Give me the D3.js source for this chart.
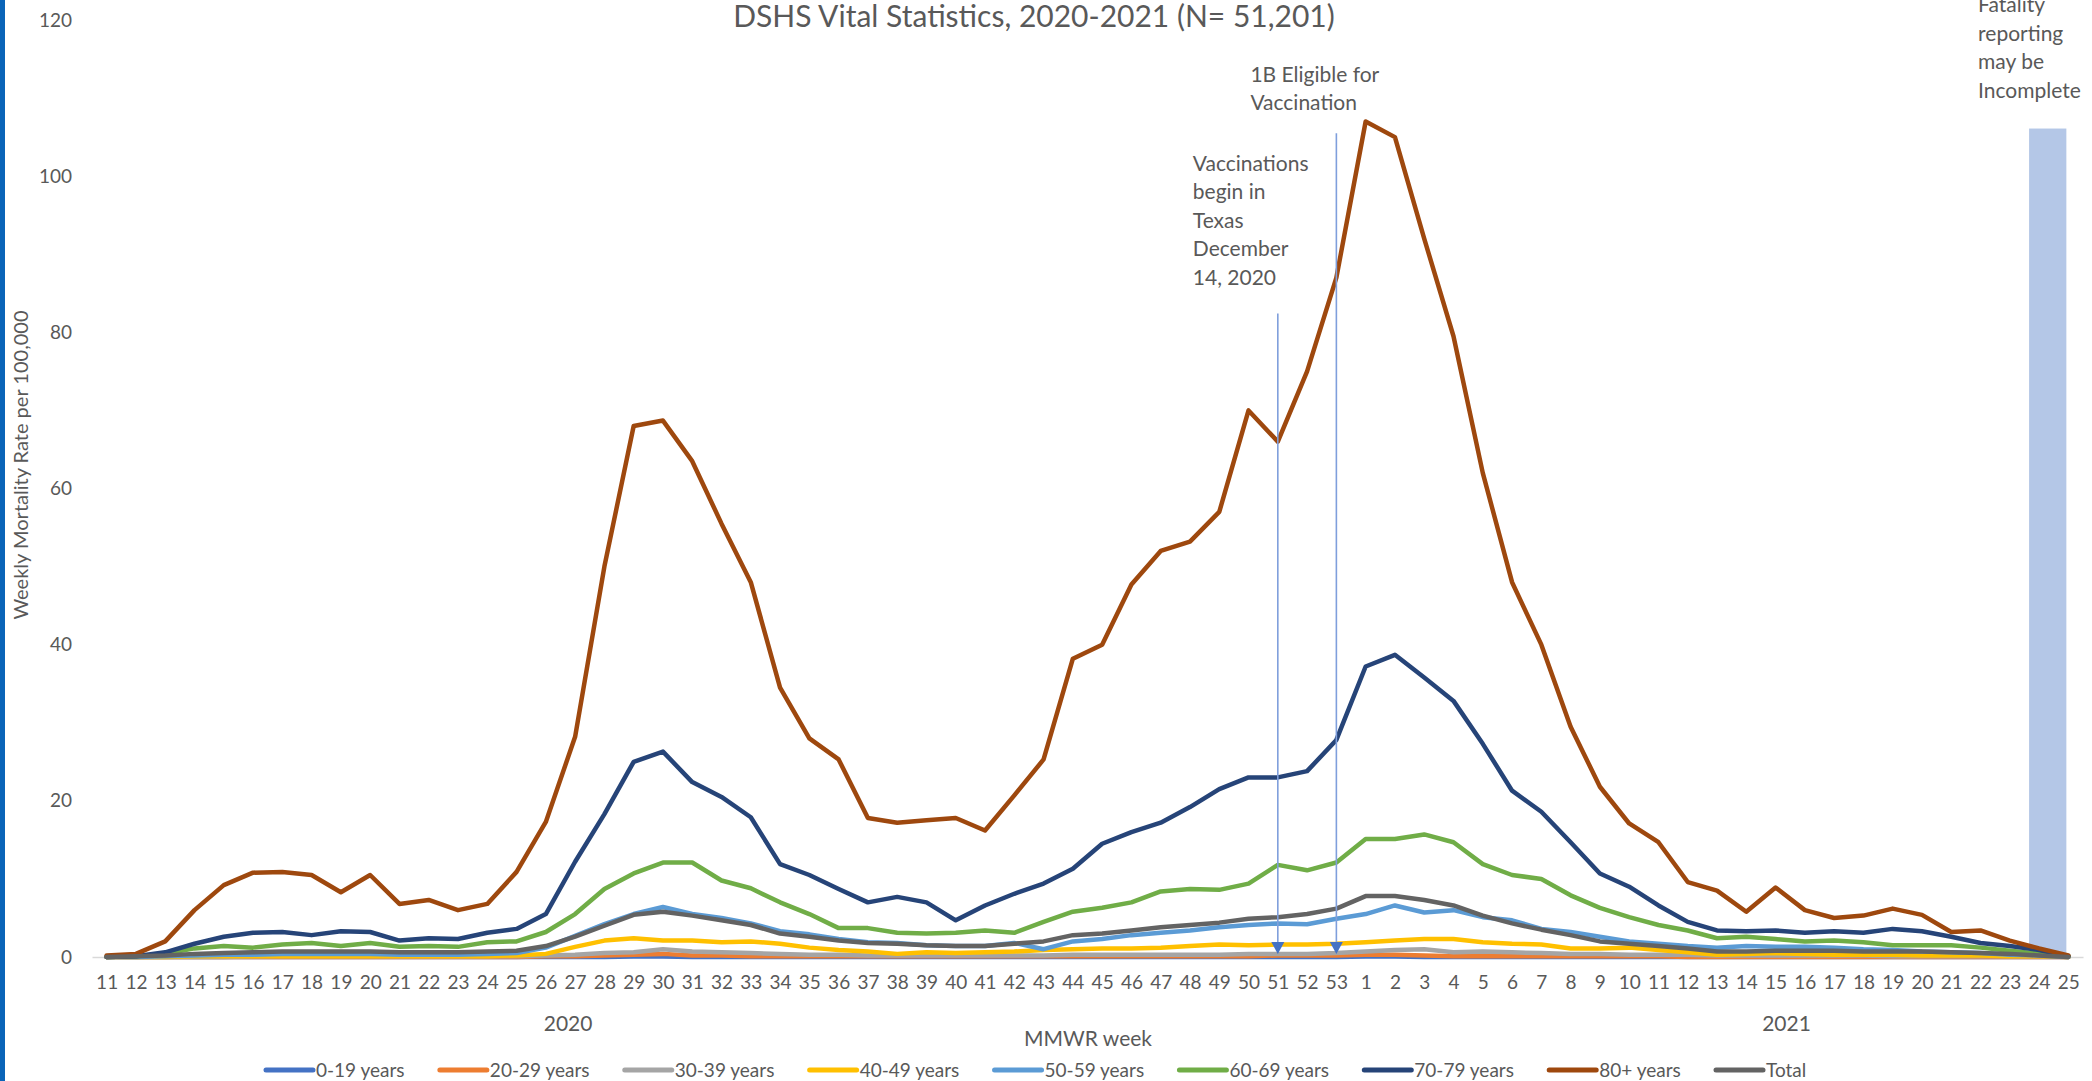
<!DOCTYPE html>
<html>
<head>
<meta charset="utf-8">
<script src="https://cdn.jsdelivr.net/npm/d3@7"></script>
<style>
  html, body { margin: 0; padding: 0; background: #fff; overflow: hidden; }
  svg { display: block; font-family: Lato, "Open Sans", sans-serif; }
</style>
</head>
<body>
<svg id="chart" width="2092" height="1081"></svg>
<script>
// MMWR weeks shown on the category axis
const weeks2020 = [11, 12, 13, 14, 15, 16, 17, 18, 19, 20, 21, 22, 23, 24, 25, 26, 27, 28, 29, 30,
  31, 32, 33, 34, 35, 36, 37, 38, 39, 40, 41, 42, 43, 44, 45, 46, 47, 48, 49, 50, 51, 52, 53];
const weeks2021 = [1, 2, 3, 4, 5, 6, 7, 8, 9, 10, 11, 12, 13, 14, 15, 16, 17, 18, 19, 20, 21, 22, 23, 24, 25];

const yTicks = [0, 20, 40, 60, 80, 100, 120];

// weekly mortality rate per 100,000
const age0_19 = [0, 0, 0, 0, 0, 0, 0, 0, 0, 0, 0, 0, 0, 0, 0, 0, 0, 0, 0.05, 0.05,
  0, 0, 0, 0, 0, 0, 0, 0, 0, 0, 0, 0, 0, 0, 0, 0, 0, 0, 0, 0, 0, 0, 0,
  0.05, 0.05, 0, 0, 0, 0, 0, 0, 0, 0, 0, 0, 0, 0, 0, 0, 0, 0, 0, 0, 0, 0, 0, 0, 0];
const age20_29 = [0, 0, 0, 0, 0, 0, 0, 0, 0, 0, 0, 0, 0, 0, 0, 0.1, 0.1, 0.2, 0.3, 0.4,
  0.2, 0.2, 0.1, 0.1, 0.1, 0.1, 0.1, 0.1, 0.1, 0.1, 0.1, 0.1, 0.1, 0.1, 0.1, 0.1, 0.1, 0.1, 0.1, 0.1,
  0.2, 0.2, 0.2,
  0.3, 0.3, 0.2, 0.1, 0.1, 0.1, 0.1, 0.1, 0.1, 0.1, 0.1, 0, 0, 0, 0, 0, 0, 0, 0, 0, 0, 0, 0, 0, 0];
const age30_39 = [0, 0, 0, 0, 0, 0.1, 0.1, 0.1, 0.1, 0.1, 0.1, 0.1, 0.1, 0.1, 0.1, 0.2, 0.3, 0.5, 0.6, 1.0,
  0.7, 0.6, 0.5, 0.4, 0.3, 0.3, 0.2, 0.2, 0.2, 0.2, 0.2, 0.2, 0.2, 0.3, 0.3, 0.3, 0.3, 0.3, 0.3, 0.4,
  0.4, 0.4, 0.5,
  0.7, 0.9, 1.0, 0.6, 0.7, 0.6, 0.5, 0.4, 0.4, 0.3, 0.3, 0.3, 0.2, 0.2, 0.2, 0.2, 0.2, 0.2, 0.1, 0.1,
  0.1, 0.1, 0.1, 0.1, 0];
const age40_49 = [0, 0, 0, 0.1, 0.1, 0.1, 0.1, 0.1, 0.1, 0.1, 0.1, 0.1, 0.1, 0.1, 0.2, 0.4, 1.3, 2.1, 2.4, 2.1,
  2.1, 1.9, 2.0, 1.7, 1.2, 0.9, 0.7, 0.4, 0.6, 0.5, 0.6, 0.7, 0.9, 1.0, 1.1, 1.1, 1.2, 1.4, 1.6, 1.5,
  1.6, 1.6, 1.7,
  1.9, 2.1, 2.3, 2.3, 1.9, 1.7, 1.6, 1.1, 1.1, 1.2, 0.9, 0.6, 0.3, 0.4, 0.5, 0.4, 0.3, 0.3, 0.3, 0.2,
  0.2, 0.2, 0.1, 0.1, 0];
const age50_59 = [0, 0, 0.1, 0.2, 0.3, 0.3, 0.4, 0.4, 0.4, 0.4, 0.3, 0.3, 0.3, 0.4, 0.5, 1.2, 2.7, 4.2, 5.5, 6.4,
  5.5, 5.0, 4.3, 3.3, 2.9, 2.3, 1.9, 1.8, 1.5, 1.4, 1.4, 1.8, 1.0, 2.0, 2.3, 2.8, 3.1, 3.4, 3.8, 4.1,
  4.3, 4.2, 4.9,
  5.5, 6.6, 5.7, 6.0, 5.1, 4.7, 3.6, 3.2, 2.6, 2.0, 1.7, 1.4, 1.2, 1.4, 1.3, 1.3, 1.2, 1.0, 0.9, 0.7,
  0.6, 0.5, 0.3, 0.2, 0];
const age60_69 = [0, 0.1, 0.4, 1.1, 1.4, 1.2, 1.6, 1.8, 1.4, 1.8, 1.3, 1.4, 1.3, 1.9, 2.0, 3.2, 5.5, 8.7, 10.7, 12.1,
  12.1, 9.8, 8.8, 7.0, 5.5, 3.7, 3.7, 3.1, 3.0, 3.1, 3.4, 3.1, 4.5, 5.8, 6.3, 7.0, 8.4, 8.7, 8.6, 9.4,
  11.8, 11.1, 12.1,
  15.1, 15.1, 15.7, 14.7, 11.9, 10.5, 10.0, 7.9, 6.3, 5.1, 4.1, 3.4, 2.4, 2.6, 2.3, 2.0, 2.1, 1.9, 1.5, 1.5,
  1.5, 1.2, 0.8, 0.4, 0.1];
const age70_79 = [0, 0.1, 0.6, 1.7, 2.6, 3.1, 3.2, 2.8, 3.3, 3.2, 2.1, 2.4, 2.3, 3.1, 3.6, 5.5, 12.2, 18.3, 25.0, 26.3,
  22.4, 20.5, 17.9, 11.9, 10.5, 8.7, 7.0, 7.7, 7.0, 4.7, 6.6, 8.1, 9.4, 11.3, 14.5, 16.0, 17.2, 19.2, 21.5, 23.0,
  23.0, 23.8, 27.8,
  37.2, 38.7, 35.8, 32.8, 27.3, 21.3, 18.6, 14.7, 10.7, 9.0, 6.6, 4.5, 3.4, 3.3, 3.4, 3.1, 3.3, 3.1, 3.6, 3.3,
  2.6, 1.8, 1.4, 0.9, 0.1];
const age80plus = [0.2, 0.4, 2.0, 6.0, 9.2, 10.8, 10.9, 10.5, 8.3, 10.5, 6.8, 7.3, 6.0, 6.8, 10.9, 17.3, 28.2, 50.0, 68.0, 68.7,
  63.5, 55.5, 48.0, 34.5, 28.0, 25.3, 17.8, 17.2, 17.5, 17.8, 16.2, 20.7, 25.3, 38.2, 40.0, 47.7, 52.0, 53.2, 57.0, 70.0,
  66.0, 75.0, 87.0,
  107.0, 105.0, 92.0, 79.5, 62.0, 48.0, 40.0, 29.5, 21.8, 17.1, 14.7, 9.6, 8.5, 5.8, 8.9, 6.0, 5.0, 5.3, 6.2, 5.4,
  3.2, 3.4, 2.1, 1.1, 0.2];
const total = [0, 0.1, 0.2, 0.4, 0.5, 0.6, 0.7, 0.7, 0.7, 0.7, 0.6, 0.6, 0.6, 0.7, 0.8, 1.4, 2.6, 4.0, 5.4, 5.8,
  5.3, 4.7, 4.1, 3.0, 2.6, 2.1, 1.8, 1.7, 1.5, 1.4, 1.4, 1.7, 2.0, 2.8, 3.0, 3.4, 3.8, 4.1, 4.4, 4.9,
  5.1, 5.5, 6.2,
  7.8, 7.8, 7.3, 6.6, 5.3, 4.3, 3.5, 2.8, 2.0, 1.7, 1.4, 1.1, 0.7, 0.7, 0.8, 0.8, 0.8, 0.7, 0.7, 0.7,
  0.6, 0.5, 0.4, 0.2, 0];

const seriesNames = ["0-19 years", "20-29 years", "30-39 years", "40-49 years", "50-59 years",
  "60-69 years", "70-79 years", "80+ years", "Total"];
const seriesValues = [age0_19, age20_29, age30_39, age40_49, age50_59, age60_69, age70_79, age80plus, total];
const seriesColors = ["#4472C4", "#ED7D31", "#A5A5A5", "#FFC000", "#5B9BD5", "#70AD47", "#264478", "#9E480E", "#636363"];

// annotations
const eventLines = [
  { key: "2020-51", top: 82.4, lines: ["Vaccinations", "begin in", "Texas", "December", "14, 2020"], dx: -85, lift: 36 },
  { key: "2020-53", top: 105.5, lines: ["1B Eligible for", "Vaccination"], dx: -86, lift: 30 }
];
const incompleteBar = { from: "2021-24", to: "2021-25", value: 106.1, lines: ["Fatality", "reporting", "may be", "Incomplete"] };
const yearLabels = [{ text: "2020", key: "2020-27", dx: -7 }, { text: "2021", key: "2021-15", dx: 11 }];

const categories = weeks2020.map(w => ({ key: "2020-" + w, label: String(w) }))
  .concat(weeks2021.map(w => ({ key: "2021-" + w, label: String(w) })));

const svg = d3.select("#chart");
const W = 2092, H = 1081;
const textColor = "#595959";

svg.append("rect").attr("width", W).attr("height", H).attr("fill", "#fff");
// blue edge on the left
svg.append("rect").attr("x", 0).attr("y", 0).attr("width", 5).attr("height", H).attr("fill", "#0A64B8");

const x = d3.scalePoint()
  .domain(categories.map(c => c.key))
  .range([92, 2083])
  .padding(0.5);

const y = d3.scaleLinear().domain([0, 120]).range([957, 20]);

// title (partly cut off at the top)
svg.append("text")
  .attr("x", 1034).attr("y", 27)
  .attr("text-anchor", "middle")
  .attr("font-size", 30)
  .attr("fill", textColor)
  .text("DSHS Vital Statistics, 2020-2021 (N= 51,201)");

// shaded "incomplete" column
svg.append("rect")
  .attr("x", x(incompleteBar.from) - 10)
  .attr("y", y(incompleteBar.value))
  .attr("width", x(incompleteBar.to) - 2 - (x(incompleteBar.from) - 10))
  .attr("height", y(0) - y(incompleteBar.value))
  .attr("fill", "#B4C7E7");

// y axis (labels only)
const yAxis = svg.append("g")
  .attr("transform", "translate(92,0)")
  .call(d3.axisLeft(y).tickValues(yTicks).tickSize(0).tickPadding(20));
yAxis.select(".domain").remove();
yAxis.selectAll("text").attr("font-size", 19).attr("fill", textColor).attr("font-family", "Lato, sans-serif");

// x axis
const xAxis = svg.append("g")
  .attr("transform", `translate(0,${y(0)})`)
  .call(d3.axisBottom(x).tickSize(0).tickPadding(19).tickFormat(k => categories.find(c => c.key === k).label));
xAxis.select(".domain").attr("stroke", "#D9D9D9").attr("stroke-width", 1.5);
xAxis.selectAll("text").attr("font-size", 19).attr("fill", textColor).attr("font-family", "Lato, sans-serif");

// year labels and axis titles
svg.selectAll(".year").data(yearLabels).join("text")
  .attr("x", d => x(d.key) + d.dx).attr("y", 1031)
  .attr("text-anchor", "middle").attr("font-size", 21).attr("fill", textColor)
  .text(d => d.text);

svg.append("text")
  .attr("x", 1088).attr("y", 1046)
  .attr("text-anchor", "middle").attr("font-size", 21).attr("fill", textColor)
  .text("MMWR week");

svg.append("text")
  .attr("transform", "translate(28,465) rotate(-90)")
  .attr("text-anchor", "middle").attr("font-size", 20).attr("fill", textColor)
  .text("Weekly Mortality Rate per 100,000");

// data lines
const line = d3.line()
  .x((d, i) => x(categories[i].key))
  .y(d => y(d));

svg.append("g").selectAll("path")
  .data(seriesValues)
  .join("path")
  .attr("d", d => line(d))
  .attr("fill", "none")
  .attr("stroke", (d, i) => seriesColors[i])
  .attr("stroke-width", 4.5)
  .attr("stroke-linejoin", "round")
  .attr("stroke-linecap", "round");

// event lines with arrows
const ev = svg.append("g");
eventLines.forEach(e => {
  const cx = x(e.key);
  ev.append("line")
    .attr("x1", cx).attr("x2", cx)
    .attr("y1", y(e.top)).attr("y2", y(0) - 10)
    .attr("stroke", "#7F9FDC").attr("stroke-width", 1.6);
  ev.append("path")
    .attr("d", `M${cx - 6.5},${y(0) - 15} L${cx + 6.5},${y(0) - 15} L${cx},${y(0) - 3} Z`)
    .attr("fill", "#4472C4");
  const t = ev.append("text")
    .attr("font-size", 21).attr("fill", textColor);
  const n = e.lines.length;
  e.lines.forEach((s, i) => {
    t.append("tspan")
      .attr("x", cx + e.dx)
      .attr("y", y(e.top) - e.lift - (n - 1 - i) * 28.5 + 7)
      .text(s);
  });
});

// note above the shaded column
const note = svg.append("text").attr("font-size", 21).attr("fill", textColor);
incompleteBar.lines.forEach((s, i) => {
  note.append("tspan")
    .attr("x", x(incompleteBar.from) - 61)
    .attr("y", y(incompleteBar.value) - 38 - (incompleteBar.lines.length - 1 - i) * 28.5 + 7)
    .text(s);
});

// legend
const legend = svg.append("g").attr("transform", "translate(0,1070)");
const items = legend.selectAll("g").data(seriesNames).join("g");
items.append("line")
  .attr("x1", 0).attr("x2", 47).attr("y1", 0).attr("y2", 0)
  .attr("stroke", (d, i) => seriesColors[i]).attr("stroke-width", 5).attr("stroke-linecap", "round");
items.append("text")
  .attr("x", 50).attr("y", 7)
  .attr("font-size", 19).attr("fill", textColor)
  .text(d => d);
const widths = items.nodes().map(n => 50 + n.querySelector("text").getComputedTextLength());
const legendStart = 266, legendLastStart = 1716;
const pad = (legendLastStart - legendStart - d3.sum(widths.slice(0, -1))) / (widths.length - 1);
let cursor = legendStart;
items.each(function (d, i) {
  d3.select(this).attr("transform", `translate(${cursor},0)`);
  cursor += widths[i] + pad;
});
</script>
</body>
</html>
